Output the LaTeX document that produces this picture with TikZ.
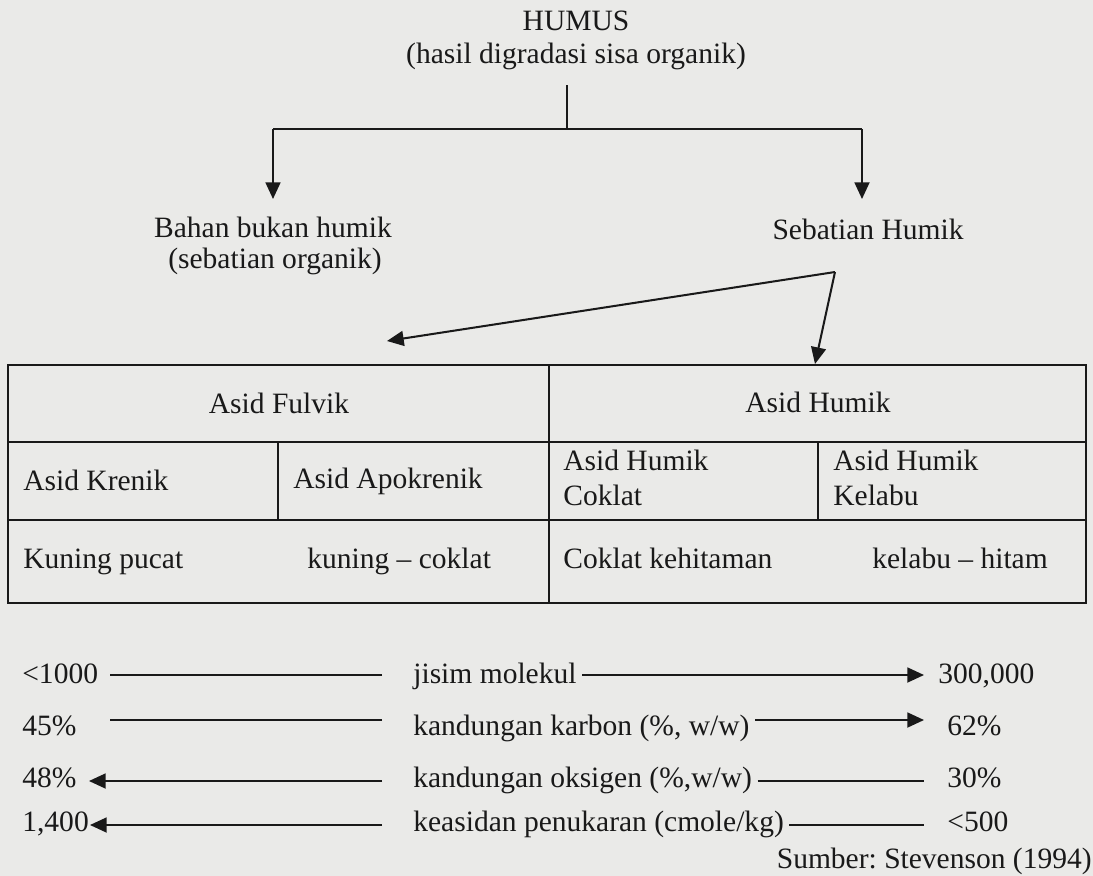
\documentclass[tikz,border=0pt]{standalone}
\usepackage{fontspec}
\setmainfont{Liberation Serif}
\usetikzlibrary{arrows.meta}
\definecolor{kertas}{RGB}{234,234,232}
\definecolor{tinta}{RGB}{25,25,25}
\frenchspacing

\begin{document}
\begin{tikzpicture}[x=0.02cm,y=-0.02cm,font=\fontsize{16.8}{20}\selectfont,
  teks/.style={inner sep=0pt,text=tinta},
  garis/.style={draw=tinta,line width=1.15pt},
  panah/.style={garis,-{Triangle[length=9.5pt,width=8.5pt]}}]
  % latar kertas
  \fill[kertas] (0,0) rectangle (1093,876);
  % humus dan dua cabangnya
  \node[teks,anchor=base] (humus) at (576,30) {HUMUS};
  \node[teks,anchor=base] (hasil) at (576,63) {(hasil digradasi sisa organik)};
  \node[teks,anchor=base] (bahan) at (273,237) {Bahan bukan humik};
  \node[teks,anchor=base] (organik) at (275,268) {(sebatian organik)};
  \node[teks,anchor=base] (sebatian) at (868,239) {Sebatian Humik};
  \coordinate (pangkal) at (567,85);
  \coordinate (simpang) at (567,129);
  \coordinate (cabkiri) at (273,129);
  \coordinate (cabkanan) at (862,129);
  \coordinate (ujungkiri) at (273,199);
  \coordinate (ujungkanan) at (862,199);
  \draw[garis] (pangkal) -- (simpang);
  \draw[garis] (cabkiri) -- (cabkanan);
  \draw[panah] (cabkiri) -- (ujungkiri);
  \draw[panah] (cabkanan) -- (ujungkanan);
  % sebatian humik terpecah dua
  \coordinate (pecah) at (835,272);
  \coordinate (kefulvik) at (387,341);
  \coordinate (kehumik) at (815,364);
  \draw[panah] (pecah) -- (kefulvik);
  \draw[panah] (pecah) -- (kehumik);
  % jadual
  \draw[garis] (8,365) rectangle (1086,603);
  \draw[garis] (8,442) -- (1086,442) (8,520) -- (1086,520);
  \draw[garis] (549,365) -- (549,603) (278,442) -- (278,520) (818,442) -- (818,520);
  \node[teks,anchor=base] (fulvik) at (279,413) {Asid Fulvik};
  \node[teks,anchor=base] (humik) at (818,412) {Asid Humik};
  \node[teks,anchor=base west] (krenik) at (23,490) {Asid Krenik};
  \node[teks,anchor=base west] (apokrenik) at (293,488) {Asid Apokrenik};
  \node[teks,anchor=base west] (coklat) at (563,470) {Asid Humik};
  \node[teks,anchor=base west] (coklatb) at (563,505) {Coklat};
  \node[teks,anchor=base west] (kelabu) at (833,470) {Asid Humik};
  \node[teks,anchor=base west] (kelabub) at (833,505) {Kelabu};
  \node[teks,anchor=base west] (pucat) at (23,568) {Kuning pucat};
  \node[teks,anchor=base west] (kuning) at (307,568) {kuning – coklat};
  \node[teks,anchor=base west] (hitam) at (563,568) {Coklat kehitaman};
  \node[teks,anchor=base west] (kelabuhitam) at (872,568) {kelabu – hitam};
  % sifat: kiri - tengah - kanan
  \foreach \i/\yb/\yg/\xa/\ga/\gb/\xk/\kiri/\tengah/\kanan in {
      1/683/675/110/garis/panah/938/{<1000}/{jisim molekul}/{300,000},
      2/735/720/110/garis/panah/947/{45\%}/{kandungan karbon (\%, w/w)}/{62\%},
      3/787/781/89/panah/garis/947/{48\%}/{kandungan oksigen (\%,w/w)}/{30\%},
      4/831/825/90/panah/garis/947/{1,400}/{keasidan penukaran (cmole/kg)}/{<500}} {
    \node[teks,anchor=base west] (ki\i) at (22,\yb) {\kiri};
    \node[teks,anchor=base west] (te\i) at (413,\yb) {\tengah};
    \node[teks,anchor=base west] (ka\i) at (\xk,\yb) {\kanan};
    \coordinate (ujung\i) at (\xa,\yg);
    \coordinate (awal\i) at (382,\yg);
    \coordinate (akhir\i) at (924,\yg);
    \path (te\i.east |- akhir\i) coordinate (mula\i);
    \draw[\ga] (awal\i) -- (ujung\i);
    \draw[\gb] ([xshift=3pt]mula\i) -- (akhir\i);
  }
  \node[teks,anchor=base east] (sumber) at (1092,868) {Sumber: Stevenson (1994)};
\end{tikzpicture}
\end{document}
